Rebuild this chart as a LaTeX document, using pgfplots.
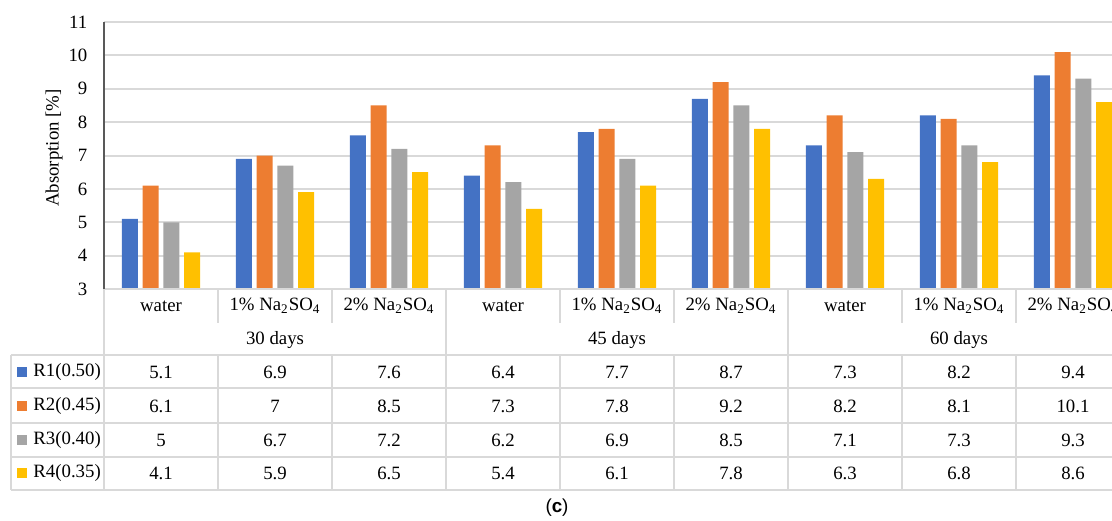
\documentclass[border=0pt]{standalone}
\usepackage{fontspec}
\setmainfont{Liberation Serif}
\setsansfont{Liberation Sans}
\usepackage{pgfplots}
\pgfplotsset{compat=1.18}
\usepackage{pgfplotstable}
\definecolor{cA}{HTML}{4472C4}
\definecolor{cB}{HTML}{ED7D31}
\definecolor{cC}{HTML}{A5A5A5}
\definecolor{cD}{HTML}{FFC000}
\definecolor{gridc}{HTML}{D9D9D9}
\definecolor{axc}{HTML}{595959}
\pgfplotstableread{
x R1 R2 R3 R4
0 5.1 6.1 5.0 4.1
1 6.9 7.0 6.7 5.9
2 7.6 8.5 7.2 6.5
3 6.4 7.3 6.2 5.4
4 7.7 7.8 6.9 6.1
5 8.7 9.2 8.5 7.8
6 7.3 8.2 7.1 6.3
7 8.2 8.1 7.3 6.8
8 9.4 10.1 9.3 8.6
}\data
\newcommand\tf{\fontsize{9.4}{11}\selectfont}
\newcommand\naso{Na\textsubscript{2}SO\textsubscript{4}}
\begin{document}
\begin{tikzpicture}[x=0.5pt,y=0.5pt]
\useasboundingbox (0,0) rectangle (1112,520);
\coordinate (A) at (104,231);
\begin{axis}[at={(A)}, anchor=south west, scale only axis,
  width=504pt, height=133.5pt,
  xmin=-0.5, xmax=8.342, ymin=3, ymax=11, ytick={3,...,11}, xtick=\empty,
  ymajorgrids, grid style={gridc, line width=1pt},
  axis line style={draw=none}, major tick length=0pt,
  yticklabel style={font=\tf, xshift=-4.8pt},
  /pgf/number format/assume math mode=true,
  ybar=2.35pt, bar width=8pt,
  every axis plot/.append style={draw=none}]
\addplot[fill=cA] table[x=x,y=R1]{\data};
\addplot[fill=cB] table[x=x,y=R2]{\data};
\addplot[fill=cC] table[x=x,y=R3]{\data};
\addplot[fill=cD] table[x=x,y=R4]{\data};
\end{axis}
\node[rotate=90, font=\tf] at (54,372) {Absorption [\%]};
% table lines
\begin{scope}[gridc, line width=1pt]
\draw (104,231) -- (1112,231);
\foreach \yy in {165,132,97,63,30} \draw (11,\yy) -- (1112,\yy);
\draw (11,165) -- (11,30);
\foreach \xx in {104,446,788} \draw (\xx,231) -- (\xx,30);
\foreach \xx in {218,332,560,674,902,1016} {\draw (\xx,231) -- (\xx,197); \draw (\xx,165) -- (\xx,30);}
\end{scope}
\draw[axc, line width=0.8pt] (104,498) -- (104,231);
% category labels
\foreach \p in {0,1,2} {
  \node[font=\tf] at ({161+114*(3*\p)},214) {water};
  \node[font=\tf] at ({161+114*(3*\p+1)},214) {1\% \naso};
  \node[font=\tf] at ({161+114*(3*\p+2)},214) {2\% \naso};
}
\node[font=\tf] at (275,180) {30 days};
\node[font=\tf] at (617,180) {45 days};
\node[font=\tf] at (959,180) {60 days};
% data rows
\foreach \v [count=\i from 0] in {5.1,6.9,7.6,6.4,7.7,8.7,7.3,8.2,9.4} \node[font=\tf] at ({161+114*\i},148) {\v};
\foreach \v [count=\i from 0] in {6.1,7,8.5,7.3,7.8,9.2,8.2,8.1,10.1} \node[font=\tf] at ({161+114*\i},114) {\v};
\foreach \v [count=\i from 0] in {5,6.7,7.2,6.2,6.9,8.5,7.1,7.3,9.3} \node[font=\tf] at ({161+114*\i},80) {\v};
\foreach \v [count=\i from 0] in {4.1,5.9,6.5,5.4,6.1,7.8,6.3,6.8,8.6} \node[font=\tf] at ({161+114*\i},47) {\v};
% legend column
\foreach \c/\lab/\yy in {cA/R1(0.50)/148, cB/R2(0.45)/114, cC/R3(0.40)/80, cD/R4(0.35)/47} {
  \fill[\c] (17,{\yy-5}) rectangle (27,{\yy+5});
  \node[font=\tf, anchor=west, inner sep=0pt] at (33,\yy) {\lab};
}
\node[font=\sffamily\tf] at (557,12) {(\textbf{c})};
\end{tikzpicture}
\end{document}
